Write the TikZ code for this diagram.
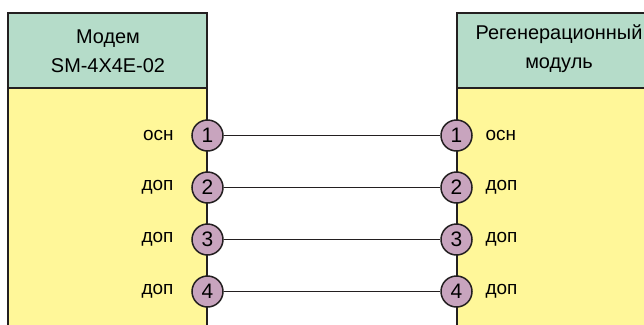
\documentclass[tikz,border=0pt]{standalone}
\usepackage{fontspec}
\setmainfont{Liberation Sans}
\usetikzlibrary{positioning}
\definecolor{hdrgreen}{RGB}{181,220,201}
\definecolor{bodyyellow}{RGB}{255,247,153}
\definecolor{pinmauve}{RGB}{200,164,190}
\definecolor{edgegray}{RGB}{35,31,32}

\begin{document}
\begin{tikzpicture}[x=1bp, y=-1bp, font=\fontsize{19}{29}\selectfont,
    pin/.style={circle, draw=edgegray, line width=1.5bp, fill=pinmauve, minimum size=31bp, inner sep=0pt, font=\fontsize{21}{21}\selectfont},
    boxline/.style={draw=edgegray, line width=2bp},
    wire/.style={draw=edgegray, line width=1.4bp}]

    \useasboundingbox (0,0) rectangle (644,324);
    \clip (0,0) rectangle (644,324);

    % modem block
    \fill[bodyyellow] (8,88) rectangle (207,340);
    \fill[hdrgreen] (8,13) rectangle (207,88);
    \draw[boxline] (8,340) -- (8,13) -- (207,13) -- (207,340);
    \draw[boxline] (8,88) -- (207,88);
    \node[align=center, font=\fontsize{20}{29}\selectfont] (modem) at (108,51) {Модем\\SM-4X4E-02};

    % regeneration block
    \fill[bodyyellow] (457,88) rectangle (700,340);
    \fill[hdrgreen] (457,13) rectangle (700,88);
    \draw[boxline] (457,340) -- (457,13) -- (700,13);
    \draw[boxline] (457,88) -- (700,88);
    \node[align=center, font=\fontsize{20}{29}\selectfont] (regen) at (559,49) {Регенерационный\\модуль};

    % pins
    \node[pin] (l1) at (207.5,135.5) {1};
    \node[pin] (l2) at (207.5,187.5) {2};
    \node[pin] (l3) at (207.5,239.5) {3};
    \node[pin] (l4) at (207.5,291.5) {4};
    \node[pin] (r1) at (456.5,135.5) {1};
    \node[pin] (r2) at (456.5,187.5) {2};
    \node[pin] (r3) at (456.5,239.5) {3};
    \node[pin] (r4) at (456.5,291.5) {4};

    \node[anchor=east] (la1) at (177,135.5) {осн};
    \node[anchor=east] (la2) at (177,187.5) {доп};
    \node[anchor=east] (la3) at (177,239.5) {доп};
    \node[anchor=east] (la4) at (177,291.5) {доп};
    \node[anchor=west] (ra1) at (482,135.5) {осн};
    \node[anchor=west] (ra2) at (482,187.5) {доп};
    \node[anchor=west] (ra3) at (482,239.5) {доп};
    \node[anchor=west] (ra4) at (482,291.5) {доп};

    \draw[wire] (l1) -- (r1);
    \draw[wire] (l2) -- (r2);
    \draw[wire] (l3) -- (r3);
    \draw[wire] (l4) -- (r4);

\end{tikzpicture}
\end{document}
